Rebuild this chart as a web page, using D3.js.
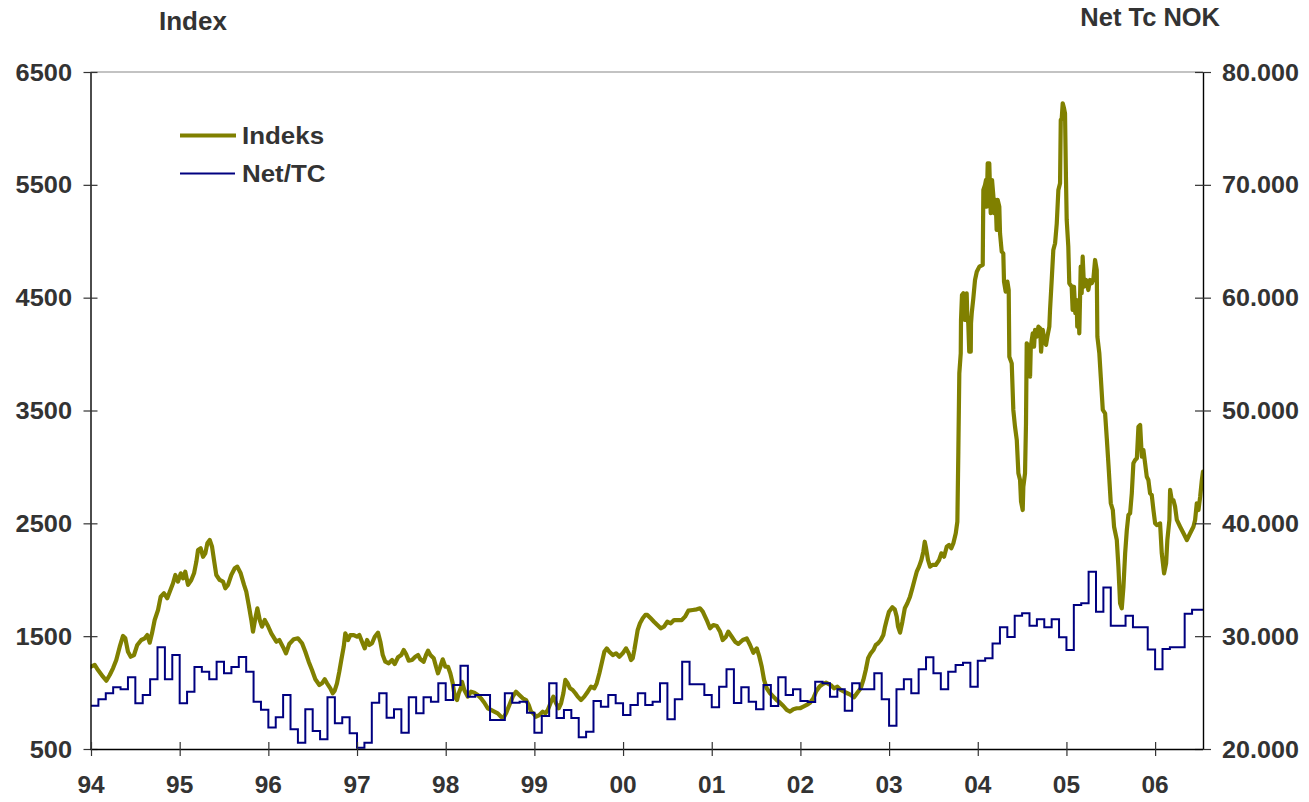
<!DOCTYPE html>
<html><head><meta charset="utf-8">
<script src="https://cdn.jsdelivr.net/npm/d3@7"></script>
<style>
html,body{margin:0;padding:0;background:#fff;}
svg{display:block;}
text{font-family:"Liberation Sans",Arial,sans-serif;font-weight:bold;fill:#333;}
</style></head><body>
<svg id="chart" width="1309" height="802"></svg>
<script>
// ---- data ----
const seriesNames = ["Indeks", "Net/TC"];
const leftTitle = "Index";
const rightTitle = "Net Tc NOK";
const leftTicks = [500, 1500, 2500, 3500, 4500, 5500, 6500];
const rightTicks = [20000, 30000, 40000, 50000, 60000, 70000, 80000];
const yearTicks = [1994,1995,1996,1997,1998,1999,2000,2001,2002,2003,2004,2005,2006];
const yearLabels = ["94","95","96","97","98","99","00","01","02","03","04","05","06"];
const xStart = 1994, xEnd = 2006.54;

// Net/TC monthly values (NOK), Jan 1994 .. Jun 2006
const netTcStartYear = 1994;
const netTc1994_1997 = [
  23840,24400,24940,25470,25290,26350,24050,24790,26180,29010,26180,28330,
  24050,25080,27270,26850,26180,27740,26710,27270,28150,26850,24190,23480,
  21910,22810,24790,21750,20560,23520,21600,20860,24580,22280,22810,21390,
  20120,20560,24100,24940,22770,23520,21450,24580,23160,24580,24190,25820];
const netTc1998_2001 = [
  24340,25670,27380,24640,24790,24790,22570,22570,24940,24100,24190,23220,
  21450,22920,25820,22750,23460,22750,21040,21530,24250,23750,24790,24050,
  23010,23900,24940,23900,24190,25820,22630,24400,27740,25730,25730,24790,
  23700,25520,27060,24080,25470,24190,23520,25670,23810,26360,24790,25290];
const netTc2002_2006 = [
  24250,24170,25960,25820,24640,25290,23390,25820,25290,25290,26710,24400,
  22070,25290,26180,24940,27060,28130,26710,25290,26850,27440,27650,25520,
  27830,28040,29350,30790,29930,31810,32030,30930,31500,30790,31500,29900,
  28770,32760,32910,35710,32170,34310,30930,30930,31810,30790,30790,28820,
  27060,28860,29010,29010,31990,32350];

// Index series [decimal year, value]
const indexSeries = [
[1994.000,1230],[1994.042,1245],[1994.079,1200],[1994.135,1141],[1994.173,1105],[1994.211,1156],[1994.248,1215],[1994.285,1289],[1994.324,1407],[1994.361,1502],[1994.387,1481],[1994.417,1362],[1994.448,1318],[1994.485,1333],[1994.522,1422],[1994.567,1466],[1994.606,1481],[1994.635,1510],[1994.662,1442],[1994.688,1525],[1994.718,1643],[1994.756,1732],[1994.786,1850],[1994.823,1880],[1994.860,1836],[1994.888,1894],[1994.925,1969],[1994.951,2042],[1994.981,1983],[1995.012,2057],[1995.038,2013],[1995.063,2071],[1995.094,1954],[1995.131,1998],[1995.162,2057],[1995.188,2160],[1995.207,2264],[1995.237,2279],[1995.263,2204],[1995.289,2234],[1995.312,2323],[1995.339,2352],[1995.365,2293],[1995.387,2175],[1995.413,2042],[1995.451,1998],[1995.489,1983],[1995.515,1924],[1995.545,1954],[1995.582,2042],[1995.621,2102],[1995.650,2116],[1995.688,2057],[1995.726,1954],[1995.751,1894],[1995.782,1761],[1995.808,1643],[1995.827,1540],[1995.853,1658],[1995.876,1747],[1995.903,1643],[1995.928,1584],[1995.959,1643],[1995.996,1590],[1996.033,1525],[1996.090,1451],
[1996.124,1466],[1996.173,1392],[1996.199,1348],[1996.236,1431],[1996.286,1472],[1996.334,1481],[1996.380,1437],[1996.417,1362],[1996.455,1274],[1996.492,1200],[1996.530,1118],[1996.575,1067],[1996.605,1082],[1996.636,1118],[1996.662,1082],[1996.699,1038],[1996.726,994],[1996.748,1017],[1996.774,1082],[1996.800,1185],[1996.823,1289],[1996.850,1407],[1996.868,1525],[1996.898,1466],[1996.924,1510],[1996.963,1510],[1997.000,1495],[1997.026,1510],[1997.056,1451],[1997.087,1392],[1997.113,1466],[1997.139,1422],[1997.169,1437],[1997.200,1495],[1997.237,1531],[1997.263,1451],[1997.290,1333],[1997.319,1274],[1997.357,1260],[1997.395,1289],[1997.425,1253],[1997.462,1313],[1997.499,1333],[1997.527,1377],[1997.553,1342],[1997.583,1283],[1997.620,1289],[1997.657,1318],[1997.688,1333],[1997.714,1295],[1997.752,1274],[1997.778,1333],[1997.801,1371],[1997.827,1333],[1997.865,1304],[1997.891,1229],[1997.913,1171],[1997.939,1229],[1997.966,1295],[1997.996,1229],[1998.026,1229],[1998.052,1171],[1998.079,1082],[1998.102,964],[1998.128,934],[1998.147,994],[1998.176,1052],
[1998.184,1096],[1998.210,1023],[1998.248,964],[1998.286,1008],[1998.323,999],[1998.361,979],[1998.398,949],[1998.436,910],[1998.474,861],[1998.511,846],[1998.548,831],[1998.587,816],[1998.624,786],[1998.650,772],[1998.680,816],[1998.718,890],[1998.756,964],[1998.793,1008],[1998.830,979],[1998.869,949],[1998.906,934],[1998.936,890],[1998.962,831],[1998.988,816],[1999.019,786],[1999.056,801],[1999.094,831],[1999.124,816],[1999.151,846],[1999.188,919],[1999.214,964],[1999.244,905],[1999.275,861],[1999.301,905],[1999.327,994],[1999.349,1112],[1999.376,1082],[1999.402,1038],[1999.432,1023],[1999.462,994],[1999.489,964],[1999.526,934],[1999.563,964],[1999.602,1008],[1999.639,1052],[1999.676,1038],[1999.703,1082],[1999.733,1171],[1999.763,1274],[1999.789,1362],[1999.816,1392],[1999.845,1362],[1999.884,1333],[1999.921,1348],[1999.958,1318],[1999.996,1348],[2000.033,1392],[2000.064,1348],[2000.090,1289],[2000.109,1304],[2000.127,1377],[2000.146,1466],[2000.165,1555],[2000.191,1614],[2000.222,1658],[2000.251,1688],
[2000.274,1688],[2000.312,1658],[2000.349,1628],[2000.387,1599],[2000.425,1570],[2000.462,1584],[2000.499,1628],[2000.538,1614],[2000.575,1643],[2000.623,1643],[2000.662,1643],[2000.699,1673],[2000.736,1726],[2000.786,1732],[2000.831,1738],[2000.868,1747],[2000.899,1717],[2000.925,1673],[2000.951,1628],[2000.981,1570],[2001.018,1599],[2001.057,1590],[2001.094,1540],[2001.124,1466],[2001.161,1495],[2001.187,1540],[2001.226,1495],[2001.263,1451],[2001.300,1431],[2001.350,1466],[2001.395,1481],[2001.432,1422],[2001.469,1353],[2001.508,1392],[2001.537,1318],[2001.564,1229],[2001.590,1112],[2001.620,1038],[2001.658,994],[2001.695,964],[2001.733,934],[2001.770,910],[2001.808,881],[2001.846,846],[2001.883,831],[2001.920,852],[2001.959,861],[2001.996,861],[2002.033,875],[2002.071,890],[2002.109,910],[2002.146,949],[2002.176,1008],[2002.214,1052],[2002.252,1076],[2002.289,1088],
[2002.342,1067],[2002.379,1038],[2002.417,1052],[2002.455,1023],[2002.492,1008],[2002.529,994],[2002.568,979],[2002.605,958],[2002.642,999],[2002.680,1038],[2002.710,1112],[2002.737,1200],[2002.763,1304],[2002.793,1348],[2002.823,1377],[2002.850,1422],[2002.876,1437],[2002.906,1466],[2002.935,1510],[2002.954,1584],[2002.973,1643],[2002.999,1717],[2003.037,1756],[2003.064,1738],[2003.086,1673],[2003.101,1584],[2003.124,1531],[2003.150,1628],[2003.177,1747],[2003.206,1791],[2003.236,1850],[2003.262,1924],[2003.289,2004],[2003.312,2071],[2003.338,2116],[2003.364,2175],[2003.386,2249],[2003.402,2337],[2003.417,2279],[2003.439,2175],[2003.462,2116],[2003.488,2131],[2003.526,2131],[2003.564,2175],[2003.589,2234],[2003.620,2204],[2003.650,2293],[2003.676,2308],[2003.702,2279],[2003.725,2323],[2003.752,2412],[2003.770,2515],
[2003.781,3135],[2003.792,3830],[2003.808,4007],[2003.811,4302],[2003.822,4524],[2003.837,4539],[2003.856,4302],[2003.875,4539],[2003.882,4331],[2003.893,4273],[2003.904,4021],[2003.921,4021],[2003.924,4273],[2003.932,4362],[2003.950,4495],[2003.969,4657],[2003.989,4730],[2004.018,4775],[2004.056,4790],[2004.063,5454],[2004.082,5499],[2004.093,5543],[2004.101,5306],[2004.112,5691],[2004.124,5484],[2004.130,5691],[2004.146,5248],[2004.161,5543],[2004.175,5410],[2004.187,5248],[2004.202,5366],[2004.213,5100],[2004.225,5366],[2004.243,5306],[2004.251,5071],[2004.270,4908],[2004.288,4893],[2004.296,4642],[2004.315,4553],[2004.334,4642],[2004.349,4568],[2004.356,3977],[2004.383,3918],[2004.401,3505],[2004.420,3357],[2004.440,3239],[2004.458,2944],[2004.477,2884],[2004.488,2692],[2004.507,2618],[2004.514,2825],[2004.533,2944],[2004.544,3387],[2004.552,4096],[2004.570,4066],[2004.590,3800],[2004.598,4066],[2004.620,4184],[2004.635,4066],[2004.646,4214],[2004.665,4154],[2004.684,4243],[2004.703,4229],[2004.714,4021],[2004.733,4214],[2004.751,4125],[2004.770,4081],[2004.785,4154],[2004.807,4243],[2004.815,4391],[2004.834,4657],[2004.852,4923],[2004.872,4982],[2004.891,5159],[2004.909,5454],[2004.928,5514],[2004.936,6075],[2004.947,6090],[2004.958,6223],[2004.973,6178],[2004.984,6134],[2004.995,5543],[2005.003,5189],[2005.021,4952],[2005.032,4628],[2005.059,4597],[2005.070,4391],[2005.085,4597],[2005.100,4362],[2005.115,4479],[2005.122,4243],[2005.134,4450],[2005.145,4184],[2005.161,4775],[2005.172,4539],[2005.183,4863],[2005.198,4597],[2005.221,4657],[2005.247,4568],[2005.266,4657],[2005.285,4628],[2005.303,4657],[2005.323,4834],[2005.342,4745],[2005.349,4154],[2005.371,4007],[2005.387,3800],[2005.410,3505],[2005.436,3475],[2005.455,3254],[2005.473,3032],[2005.500,2678],[2005.523,2618],[2005.537,2470],[2005.568,2352],[2005.586,2116],[2005.605,1791],[2005.624,1747],[2005.643,1938],[2005.662,2234],[2005.681,2441],[2005.699,2574],[2005.718,2589],[2005.737,2766],[2005.755,3032],[2005.775,3061],[2005.794,3076],[2005.812,3357],[2005.831,3372],[2005.850,3091],[2005.868,3150],[2005.887,3032],[2005.906,2913],[2005.924,2884],[2005.943,2766],[2005.962,2751],[2005.981,2618],[2006.000,2500],[2006.019,2485],[2006.056,2500],[2006.075,2234],[2006.101,2057],[2006.124,2146],[2006.138,2352],[2006.161,2530],[2006.169,2796],[2006.188,2707],[2006.206,2707],[2006.225,2648],[2006.245,2530],[2006.282,2470],[2006.320,2412],[2006.358,2352],[2006.395,2412],[2006.432,2470],[2006.451,2530],[2006.470,2678],[2006.489,2618],[2006.508,2736],[2006.527,2884],[2006.540,2958]
];

// ---- layout ----
const L = 90.5, R = 1203, T = 72, B = 749;
const svg = d3.select("#chart");

const x = d3.scaleLinear().domain([xStart, xEnd]).range([91, R]);
const yL = d3.scaleLinear().domain([500, 6500]).range([B, T]);
const yR = d3.scaleLinear().domain([20000, 80000]).range([B, T]);

const nok = d3.formatLocale({decimal: ",", thousands: ".", grouping: [3], currency: ["", ""]});
const fmtR = v => nok.format(",.0f")(v / 1000) + ".000";

function label(g, px, py, str, anchor, size, sx) {
  return g.append("text")
    .attr("transform", `translate(${px},${py}) scale(${sx},1)`)
    .attr("text-anchor", anchor)
    .attr("font-size", size)
    .text(str);
}

// top border
svg.append("line").attr("x1", L).attr("x2", R).attr("y1", T).attr("y2", T)
  .attr("stroke", "#888").attr("stroke-width", 1.2);

// clip
svg.append("clipPath").attr("id", "clip").append("rect")
  .attr("x", L).attr("y", T - 10).attr("width", R - L).attr("height", B - T + 10);

const plot = svg.append("g").attr("clip-path", "url(#clip)");

// Index line
const indexLine = d3.line().x(d => x(d[0])).y(d => yL(d[1]));
plot.append("path").datum(indexSeries)
  .attr("d", indexLine)
  .attr("fill", "none").attr("stroke", "#808000").attr("stroke-width", 4.2)
  .attr("stroke-linejoin", "round").attr("stroke-linecap", "round");

// Net/TC step line
const netTcValues = netTc1994_1997.concat(netTc1998_2001, netTc2002_2006);
const netPts = netTcValues.map((v, i) => ({t: netTcStartYear + i / 12, v}));
netPts.push({t: xEnd, v: netTcValues[netTcValues.length - 1]});
const netLine = d3.line().curve(d3.curveStepAfter).x(d => x(d.t)).y(d => yR(d.v));
plot.append("path").datum(netPts)
  .attr("d", netLine)
  .attr("fill", "none").attr("stroke", "#000080").attr("stroke-width", 2);

// axes
const axL = svg.append("g").attr("transform", `translate(${L},0)`)
  .call(d3.axisLeft(yL).tickValues(leftTicks).tickSizeInner(7).tickSizeOuter(0).tickFormat(() => ""));
axL.selectAll(".tick line").attr("x1", 7).attr("x2", -7);

const axR = svg.append("g").attr("transform", `translate(${R},0)`)
  .call(d3.axisRight(yR).tickValues(rightTicks).tickSizeInner(8).tickSizeOuter(0).tickFormat(() => ""));
axR.selectAll(".tick line").attr("x1", -8).attr("x2", 8);

const axB = svg.append("g").attr("transform", `translate(0,${B})`)
  .call(d3.axisBottom(x).tickValues(yearTicks).tickSizeInner(7).tickSizeOuter(0).tickFormat(() => ""));
axB.selectAll(".tick line").attr("y1", -7).attr("y2", 7);
axB.select(".domain").attr("d", `M${L},0.5H${R}`);

[axL, axR, axB].forEach(a => {
  a.select(".domain").attr("stroke", "#000").attr("stroke-width", 1.4);
  a.selectAll(".tick line").attr("stroke", "#333").attr("stroke-width", 1.2);
});

// tick labels
const lab = svg.append("g");
leftTicks.forEach(v => label(lab, 72, yL(v) + 8.5, String(v), "end", 23.5, 1.08));
rightTicks.forEach(v => label(lab, 1222, yR(v) + 8.5, fmtR(v), "start", 23.5, 1.07));
yearTicks.forEach((yr, i) => label(lab, x(yr), 793, yearLabels[i], "middle", 24, 1.02));

// titles
label(lab, 159, 30, leftTitle, "start", 26, 1.0);
label(lab, 1220, 26, rightTitle, "end", 26, 0.98);

// legend
const leg = svg.append("g");
leg.append("line").attr("x1", 180).attr("x2", 236).attr("y1", 135.5).attr("y2", 135.5)
  .attr("stroke", "#808000").attr("stroke-width", 4);
leg.append("line").attr("x1", 180).attr("x2", 235).attr("y1", 173.5).attr("y2", 173.5)
  .attr("stroke", "#000080").attr("stroke-width", 2);
label(leg, 242, 144, seriesNames[0], "start", 24, 1.08);
label(leg, 242, 182, seriesNames[1], "start", 24, 1.08);
</script>
</body></html>
